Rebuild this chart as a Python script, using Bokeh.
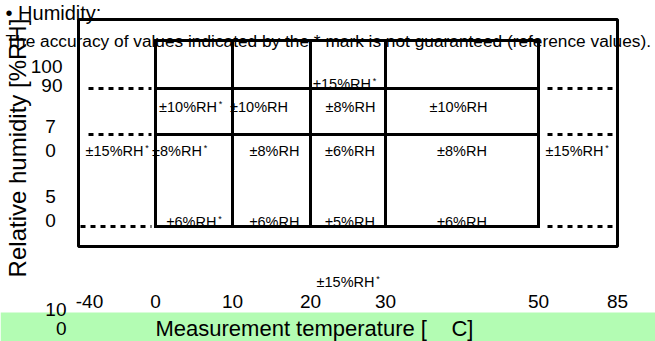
import numpy as np
from bokeh.plotting import figure
from bokeh.models import Range1d
from bokeh.embed import file_html
from bokeh.resources import INLINE
from bokeh.core.properties import value

# ---------------- data ----------------
temp_ticks = [-40, 0, 10, 20, 30, 50, 85]
temp_tick_labels = ["-40", "0", "10", "20", "30", "50", "85"]
hum_tick_labels = ["100", "90", "7\n0", "5\n0", "10\n0"]
grid_temps = [0, 10, 20, 30, 50]
grid_hums = [100, 90, 70, 50]
dotted_hums = [90, 70, 50]

cell_text = ["±15%RH",
             "±10%RH", "±10%RH", "±8%RH", "±10%RH",
             "±15%RH", "±8%RH", "±8%RH", "±6%RH", "±8%RH", "±15%RH",
             "±6%RH", "±6%RH", "±5%RH", "±6%RH",
             "±15%RH"]
cell_star = [1, 1, 0, 0, 0, 1, 1, 0, 0, 0, 1, 1, 0, 0, 0, 1]
cell_t0 = [20, 0, 10, 20, 30, -40, 0, 10, 20, 30, 50, 0, 10, 20, 30, 20]
cell_t1 = [30, 10, 20, 30, 50, 0, 10, 20, 30, 50, 85, 10, 20, 30, 50, 30]
cell_row = ["A", "B", "B", "B", "B", "C", "C", "C", "C", "C", "C",
            "D", "D", "D", "D", "E"]

title = "• Humidity:"
note = "The accuracy of values indicated by the * mark is not guaranteed (reference values)."
x_title = "Measurement temperature [\u00a0\u00a0\u00a0\u00a0C]"
y_title = "Relative humidity [%RH]"

# ---------------- layout ----------------
FONT = value("Liberation Sans")
T_BRK = [-40, 0, 10, 20, 30, 50, 85]
X_PX = [78, 155, 232, 310, 385, 538, 617]
H_BRK = [50, 70, 90, 100]
Y_PX = [226, 134, 88, 40]


def X(t):
    return float(np.interp(t, T_BRK, X_PX))


def Y(h):
    return float(np.interp(h, H_BRK, Y_PX))


FRAME_TOP, FRAME_BOT = 19, 246
ROW_BASE = {"A": Y(90) + 1, "B": Y(90) + 24, "C": Y(70) + 22,
            "D": Y(50) + 1, "E": Y(50) + 61}
CELL_DX = [-6, -6, -12.5, 2.5, -3.5, -2.5, -17, 3, 2, 0, -3.5,
           -2.5, 3, 2, 0, -2.5]
CELL_FS = 14.5
W = {"±": 584, "%": 889, "R": 722, "H": 722}


def tw(s, fs):
    return sum(W.get(c, 556) for c in s) / 1000.0 * fs


p = figure(width=655, height=341, x_range=Range1d(0, 655), y_range=Range1d(341, 0),
           output_backend="svg", toolbar_location=None, min_border=0,
           x_axis_location=None, y_axis_location=None, outline_line_color=None,
           background_fill_color="white", border_fill_color="white")
p.grid.visible = False


def txt(xs, bases, texts, fs, align="left", **kw):
    # place text by its baseline
    ys = [b - 0.36 * fs for b in bases]
    p.text(x=xs, y=ys, text=texts, text_font=FONT, text_font_size=f"{fs}px",
           text_align=align, text_baseline="alphabetic", text_color="black", **kw)


# green band
p.quad(left=[0], right=[655], top=[312], bottom=[341], fill_color="#b3fcb3", line_color=None)

# header texts
txt([5], [20], [title], 20)
txt([5], [47], [note], 17.3)

# cell texts
cx, cy, sx, sy = [], [], [], []
for i, s in enumerate(cell_text):
    c = (X(cell_t0[i]) + X(cell_t1[i])) / 2 + CELL_DX[i]
    b = ROW_BASE[cell_row[i]]
    cx.append(c)
    cy.append(b)
    if cell_star[i]:
        sx.append(c + tw(s, CELL_FS) / 2 + 1.5)
        sy.append(b - 0.716 * CELL_FS - 3.5)
txt(cx, cy, cell_text, CELL_FS, "center")
p.text(x=sx, y=sy, text=["*"] * len(sx), text_font=FONT, text_font_size="9px",
       text_align="left", text_baseline="top", text_color="black")

# x tick labels
tx = [X(t) for t in temp_ticks]
tx[0] += 11
txt(tx, [308] * len(tx), temp_tick_labels, 19, "center")

# y tick labels (wrapped as in the reference)
YT_POS = [(62, "right", [73]), (62, "right", [92]), (50, "center", [133, 157]),
          (50, "center", [203, 227]), (66, "right", [316, 335])]
for lab, (x0, al, bases) in zip(hum_tick_labels, YT_POS):
    parts = lab.split("\n")
    txt([x0] * len(parts), bases, parts, 19, al)

# axis titles
txt([155], [336], [x_title], 22)
p.text(x=[26 - 0.36 * 24], y=[147.5], text=[y_title], text_font=FONT, text_font_size="24px",
       angle=np.pi / 2, text_align="center", text_baseline="alphabetic",
       text_color="black")

# outer frame
p.quad(left=[X(-40)], right=[X(85)], top=[FRAME_TOP], bottom=[FRAME_BOT],
       fill_color=None, line_color="black", line_width=3)

# inner solid grid
vx = [X(t) for t in grid_temps]
p.segment(x0=vx, x1=vx, y0=[Y(max(grid_hums))] * len(vx), y1=[Y(min(grid_hums))] * len(vx),
          line_color="black", line_width=3, line_cap="square")
hy = [Y(h) for h in grid_hums]
p.segment(x0=[X(0)] * len(hy), x1=[X(50)] * len(hy), y0=hy, y1=hy,
          line_color="black", line_width=3, line_cap="square")

# dotted extensions
DOT_L0 = {90: 88, 70: 88, 50: 80}
dy = [Y(h) for h in dotted_hums]
p.segment(x0=[DOT_L0[h] for h in dotted_hums], x1=[X(0) - 4] * len(dy), y0=dy, y1=dy,
          line_color="black", line_width=3, line_dash="5 5")
p.segment(x0=[X(50) + 9] * len(dy), x1=[X(85)] * len(dy), y0=dy, y1=dy,
          line_color="black", line_width=3, line_dash="5 5")

open("out.html", "w").write(file_html(p, INLINE))
